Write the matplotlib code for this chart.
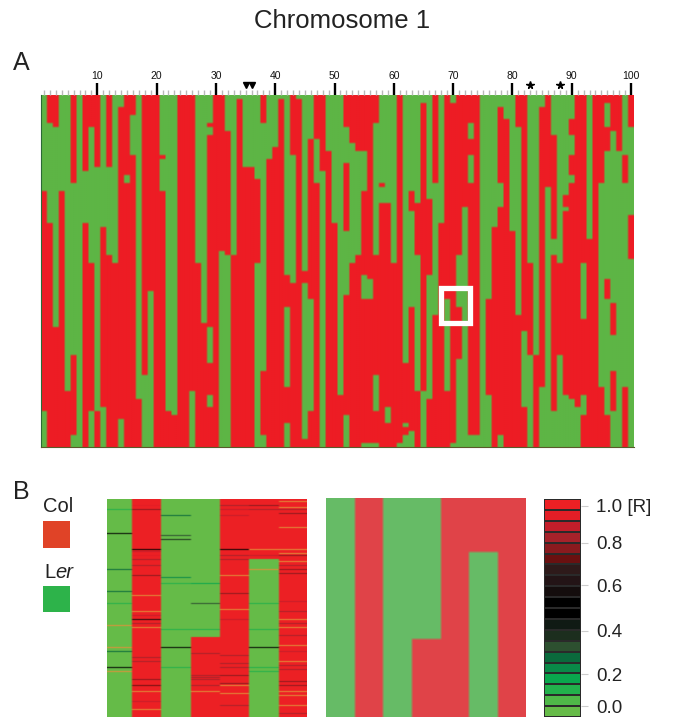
import numpy as np
import matplotlib
matplotlib.use("Agg")
import matplotlib.pyplot as plt
from matplotlib.colors import ListedColormap, to_rgb
from matplotlib.patches import Rectangle

plt.rcParams["font.family"] = ["Liberation Sans", "DejaVu Sans"]

W, H = 673, 717

# panel A: genotype of each of the 100 markers, top state + rows where it flips
n_rows_a = 88
top_state = ["G", "R", "R", "G", "G", "R", "G", "R", "R", "R",
             "G", "R", "G", "G", "R", "R", "G", "R", "R", "R",
             "G", "G", "G", "R", "R", "R", "G", "G", "G", "R",
             "R", "G", "G", "G", "G", "G", "G", "R", "G", "G",
             "G", "G", "R", "G", "G", "G", "R", "R", "G", "G",
             "G", "R", "R", "R", "R", "R", "R", "G", "G", "G",
             "R", "G", "G", "G", "G", "G", "R", "G", "R", "G",
             "R", "R", "R", "R", "G", "G", "G", "G", "G", "G",
             "R", "R", "G", "G", "G", "R", "G", "G", "G", "G",
             "R", "R", "G", "R", "R", "R", "R", "R", "G", "R"]
flips = [
    [24, 79], [7, 32], [8, 58], [24], [74], [22, 65, 85], [], [19, 32], [8, 42, 79], [18, 79],
    [33, 78], [18, 40], [42], [3, 81], [20, 22], [5, 15], [76], [70], [49], [],
    [15, 16, 24], [79], [80], [], [], [74], [42], [57], [7, 8, 10, 58, 67, 75, 78], [],
    [39], [9, 40], [40], [1], [18], [18], [21, 42], [7, 69, 85], [16], [13],
    [1], [45, 53, 73, 82], [15, 47], [1], [44, 47, 86], [11, 51, 79], [11, 22], [19], [14], [32],
    [75], [8, 17, 34, 50, 80], [12, 42], [14, 40], [14, 24, 45, 51, 87], [46, 51, 87],
    [7, 40, 70, 79, 87], [22, 23, 27], [27, 78, 82], [42],
    [87], [67, 82, 83, 85], [24, 29, 53, 84], [27, 40, 74], [2, 74], [26, 45, 76], [22, 55], [32], [51, 74], [2, 87],
    [40, 53, 66], [28], [7, 11, 15, 22, 85], [85], [], [51, 75], [33], [3, 22, 28, 85], [6], [34],
    [8, 55], [59, 78], [42, 65], [65], [3, 73], [23], [10, 36, 40, 79], [42, 65], [25, 28, 29, 75], [6, 10, 15, 20, 22, 76],
    [78], [42, 56, 75, 80], [36], [], [22, 73], [2, 8, 14, 46, 51, 80], [9, 52, 60, 69, 79], [14], [15, 22, 73], [8, 30, 41],
]
major_ticks = [10, 20, 30, 40, 50, 60, 70, 80, 90, 100]
triangle_markers = [35, 36]
star_markers = [83, 88]

# panel B: 7 columns, state + number of rows
n_rows_b = 109
b_state = [[("G", 109)], [("R", 109)], [("G", 109)], [("G", 69), ("R", 40)],
           [("R", 109)], [("R", 30), ("G", 79)], [("R", 109)]]
b_zoom_state = [[("G", 109)], [("R", 109)], [("G", 109)], [("G", 70), ("R", 39)],
                [("R", 109)], [("R", 27), ("G", 82)], [("R", 109)]]
# darker streaks, (row, R value)
streaks = {
    0: [(5, .1), (17, .5), (35, .25), (46, .25), (52, .1), (76, .25), (84, .5)],
    1: [(3, .9), (5, .78), (25, .5), (26, .85), (28, .9), (30, .83), (33, .8), (38, .78), (58, .85), (60, .55),
        (62, .8), (79, .83), (81, .8), (90, .75), (93, .72), (101, .85)],
    2: [(8, .25), (18, .3), (20, .35), (39, .2), (42, .1), (65, .1), (74, .5), (84, .1)],
    3: [(42, .15), (52, .3), (65, .1), (77, .8), (88, .8), (89, .8), (90, .8), (93, .83)],
    4: [(3, .8), (5, .85), (8, .85), (25, .5), (28, .83), (30, .8), (47, .75), (60, .85), (78, .83), (82, .8),
        (84, .83), (88, .75), (92, .75), (103, .8)],
    5: [(3, .78), (5, .83), (28, .85), (52, .1), (65, .1), (74, .5), (84, .1), (86, .1)],
    6: [(5, .83), (7, .75), (28, .75), (33, .83), (35, .75), (37, .78), (51, .85), (56, .83), (62, .83), (68, .8),
        (76, .85), (83, .8), (85, .8), (91, .75), (93, .78), (107, .83)],
}
# orange streaks, rows per column
orange_rows = {
    0: [63, 74, 86],
    1: [48, 56, 64, 96, 105],
    2: [],
    3: [96],
    4: [38, 55, 93, 97],
    5: [25, 35],
    6: [1, 4, 14, 25, 27, 31, 60, 64, 73, 81, 96, 98, 103],
}

# colour bar, bottom to top
bar_colors = ["#66bb48", "#4fb848", "#22b14c", "#09a74d", "#098a48", "#0a6a3c", "#2d5030", "#1c2e1e", "#101a14", "#000000",
              "#000000", "#140d0d", "#231416", "#2e1a1a", "#6a1010", "#8a1a1e", "#a6222a", "#c41e2a", "#e31e26", "#ed2024"]
bar_tick_pos = [1.0, 3.9, 7.9, 12.1, 16.0, 19.4]
bar_tick_labels = ["0.0", "0.2", "0.4", "0.6", "0.8", "1.0 [R]"]


def px_axes(fig, x0, y0, x1, y1):
    return fig.add_axes([x0 / W, 1 - y1 / H, (x1 - x0) / W, (y1 - y0) / H])


def state_matrix(state):
    m = np.zeros((n_rows_b, 7))
    for c, segs in enumerate(state):
        start = 0
        for st, n in segs:
            m[start:start + n, c] = 1 if st == "R" else 0
            start += n
    return m


def soften(a, k, axis):
    # small blur, the printed figure has no sharp cell edges
    p = [(0, 0)] * a.ndim
    p[axis] = (1, 1)
    b = np.pad(a, p, mode="edge")
    lo = np.take(b, range(0, b.shape[axis] - 2), axis=axis)
    hi = np.take(b, range(2, b.shape[axis]), axis=axis)
    return (1 - 2 * k) * a + k * (lo + hi)


fig = plt.figure(figsize=(W / 100, H / 100), dpi=100)

# panel A
geno = np.zeros((n_rows_a, 100))
for i in range(100):
    val = 1 if top_state[i] == "R" else 0
    start = 0
    for r in flips[i] + [n_rows_a]:
        geno[start:r, i] = val
        start = r
        val = 1 - val

ax = px_axes(fig, 41, 95, 634, 447)
cmap_a = ListedColormap(["#5db545", "#ed1c24"])
ax.imshow(np.repeat(np.repeat(geno, 2, axis=0), 3, axis=1), cmap=cmap_a, aspect="auto", extent=(0.5, 100.5, n_rows_a, 0),
          interpolation="bilinear", interpolation_stage="rgba")
ax.xaxis.tick_top()
ax.set_xticks(major_ticks)
ax.set_xticklabels([str(t) for t in major_ticks], fontsize=7.5, color="#111111")
ax.set_xticks(np.arange(1, 101), minor=True)
ax.tick_params(axis="x", which="major", length=8.5, width=1.7, color="black", pad=1.5)
ax.tick_params(axis="x", which="minor", length=3.5, width=1, color="#b8b8b8")
ax.set_yticks([])
for s in ["top", "right"]:
    ax.spines[s].set_visible(False)
ax.spines["left"].set_color("#2b6a35")
ax.spines["bottom"].set_color("#5a5a2a")
ax.plot(triangle_markers, [1.028] * 2, "v", color="black", ms=5, clip_on=False, transform=ax.get_xaxis_transform())
ax.plot(star_markers, [1.028] * 2, "*", color="black", ms=5.5, clip_on=False, transform=ax.get_xaxis_transform())
ax.add_patch(Rectangle((67.9, 48.2), 5.0, 8.8, fill=False, ec="white", lw=3.8, zorder=5))

# panel B left, one image row per px so the streaks stay thin
heat = np.repeat(state_matrix(b_state), 2, axis=0)
for c, items in streaks.items():
    for r, v in items:
        heat[2 * r, c] = v
bar_cmap = ListedColormap(bar_colors)
rgb = bar_cmap(heat)[:, :, :3]
for c, rows in orange_rows.items():
    for r in rows:
        rgb[2 * r, c] = to_rgb("#e0913a")

col_widths = [25, 29, 30, 29, 29, 30, 28]
rgb = np.repeat(rgb, col_widths, axis=1)
rgb = soften(soften(rgb, 0.15, 0), 0.25, 1)
ax2 = px_axes(fig, 107, 499, 307, 717)
ax2.imshow(rgb, aspect="auto", interpolation="nearest")
ax2.axis("off")

# panel B zoomed blocks, softer colours
ax3 = px_axes(fig, 326, 498, 526, 717)
cmap_b = ListedColormap(["#66bb66", "#e04348"])
rgb_b = cmap_b(np.repeat(np.repeat(state_matrix(b_zoom_state), 2, axis=0), [29, 28, 29, 29, 28, 29, 28], axis=1))[:, :, :3]
rgb_b = soften(soften(rgb_b, 0.3, 0), 0.3, 1)
ax3.imshow(rgb_b, aspect="auto", interpolation="nearest")
ax3.axis("off")

# colour bar
ax4 = px_axes(fig, 544, 499, 581, 717)
ax4.pcolormesh([0, 1], np.arange(21), np.linspace(0, 1, 20).reshape(-1, 1), cmap=bar_cmap, vmin=0, vmax=1,
               edgecolors="#2a2a2a", linewidth=0.25)
ax4.set_xticks([])
ax4.yaxis.tick_right()
ax4.set_yticks(bar_tick_pos)
ax4.set_yticklabels(bar_tick_labels, fontsize=13.5, color="#222222")
ax4.tick_params(axis="y", length=5, width=0.8, color="#cccccc", pad=6)
for s in ax4.spines.values():
    s.set_visible(False)

# legend squares
for y0, y1, col in [(521, 548, "#e04327"), (586, 612, "#2db34a")]:
    leg = px_axes(fig, 43, y0, 70, y1)
    leg.set_facecolor(col)
    leg.set_xticks([])
    leg.set_yticks([])
    for s in leg.spines.values():
        s.set_visible(False)

# texts
fig.text(342 / W, 1 - 21 / H, "Chromosome 1", fontsize=18.5, ha="center", va="center", color="#222222")
fig.text(13 / W, 1 - 63 / H, "A", fontsize=18, ha="left", va="center", color="#222222")
fig.text(13 / W, 1 - 492 / H, "B", fontsize=18, ha="left", va="center", color="#222222")
fig.text(43 / W, 1 - 507 / H, "Col", fontsize=14.5, ha="left", va="center", color="#222222")
fig.text(44 / W, 1 - 572 / H, "L", fontsize=14.5, ha="left", va="center", color="#222222")
fig.text(55 / W, 1 - 572 / H, "er", fontsize=14.5, style="italic", ha="left", va="center", color="#222222")

fig.savefig("out.png", dpi=100)
